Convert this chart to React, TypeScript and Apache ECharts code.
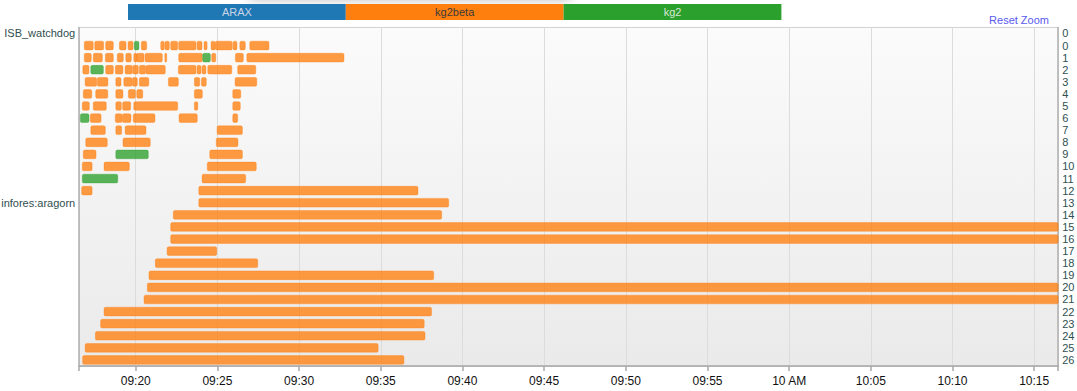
import React, { useEffect, useRef } from "react";
import * as echarts from "echarts";

// Time values are minutes after 09:00
const xMin = 16.54;
const xMax = 76.47;
const xTickValues = [20, 25, 30, 35, 40, 45, 50, 55, 60, 65, 70, 75];

const sources = ["ARAX", "kg2beta", "kg2"];
const sourceColors = ["#1f77b4", "#ff7f0e", "#2ca02c"];
const sourceTextColors = ["#c9d6e6", "#3a3a3a", "#d6e6d6"];

const groupNames = ["ISB_watchdog", "infores:aragorn"];
const groupLabelRows = [0, 14];

const rowLabels = [
  "0",
  "0", "1", "2", "3", "4", "5", "6", "7", "8", "9", "10", "11", "12", "13",
  "14", "15", "16", "17", "18", "19", "20", "21", "22", "23", "24", "25", "26",
];

// [aragorn row, start (min after 09:00), end, source]
const aragornBars: [number, number, number, string][] = [
  [0, 16.85, 17.4, "kg2beta"], [0, 17.49, 18.04, "kg2beta"], [0, 18.16, 18.63, "kg2beta"],
  [0, 19.0, 19.41, "kg2beta"], [0, 19.53, 19.84, "kg2beta"], [0, 19.91, 20.2, "kg2"],
  [0, 20.34, 20.67, "kg2beta"], [0, 21.53, 21.75, "kg2beta"], [0, 21.79, 22.06, "kg2beta"],
  [0, 22.14, 22.57, "kg2beta"], [0, 22.63, 23.69, "kg2beta"], [0, 23.75, 24.06, "kg2beta"],
  [0, 24.18, 24.37, "kg2beta"], [0, 24.61, 24.86, "kg2beta"], [0, 24.87, 25.91, "kg2beta"],
  [0, 25.96, 26.2, "kg2beta"], [0, 26.37, 26.71, "kg2beta"], [0, 26.98, 28.16, "kg2beta"],

  [1, 16.85, 17.28, "kg2beta"], [1, 17.4, 17.96, "kg2beta"], [1, 18.14, 18.63, "kg2beta"],
  [1, 18.87, 19.24, "kg2beta"], [1, 19.39, 19.73, "kg2beta"], [1, 19.88, 20.08, "kg2beta"],
  [1, 20.06, 20.51, "kg2beta"], [1, 20.57, 21.63, "kg2beta"], [1, 21.78, 21.9, "kg2beta"],
  [1, 22.63, 24.08, "kg2beta"], [1, 24.1, 24.57, "kg2"], [1, 24.65, 24.9, "kg2beta"],
  [1, 26.1, 26.59, "kg2beta"], [1, 26.8, 32.75, "kg2beta"],

  [2, 16.76, 17.14, "kg2beta"], [2, 17.25, 18.02, "kg2"], [2, 18.16, 18.63, "kg2beta"],
  [2, 18.75, 19.22, "kg2beta"], [2, 19.35, 19.79, "kg2beta"], [2, 19.82, 20.16, "kg2beta"],
  [2, 20.22, 20.61, "kg2beta"], [2, 20.63, 21.81, "kg2beta"], [2, 22.61, 23.69, "kg2beta"],
  [2, 23.75, 24.0, "kg2beta"], [2, 24.06, 24.3, "kg2beta"], [2, 24.41, 25.88, "kg2beta"],
  [2, 26.24, 27.35, "kg2beta"],

  [3, 16.9, 17.61, "kg2beta"], [3, 17.65, 18.3, "kg2beta"], [3, 18.78, 19.1, "kg2beta"],
  [3, 19.27, 19.77, "kg2beta"], [3, 19.79, 20.1, "kg2beta"], [3, 20.22, 20.8, "kg2beta"],
  [3, 22.0, 22.61, "kg2beta"], [3, 23.59, 23.92, "kg2beta"], [3, 24.02, 24.32, "kg2beta"],
  [3, 26.08, 27.41, "kg2beta"],

  [4, 16.79, 17.31, "kg2beta"], [4, 17.55, 18.29, "kg2beta"], [4, 18.78, 19.22, "kg2beta"],
  [4, 19.55, 19.98, "kg2beta"], [4, 20.06, 20.43, "kg2beta"], [4, 23.59, 24.08, "kg2beta"],
  [4, 25.94, 26.43, "kg2beta"],

  [5, 16.73, 17.16, "kg2beta"], [5, 17.4, 18.2, "kg2beta"], [5, 18.78, 19.12, "kg2beta"],
  [5, 19.2, 19.69, "kg2beta"], [5, 19.88, 22.57, "kg2beta"], [5, 23.59, 23.8, "kg2beta"],
  [5, 25.94, 26.4, "kg2beta"],

  [6, 16.61, 17.14, "kg2"], [6, 17.22, 17.88, "kg2beta"], [6, 18.75, 19.16, "kg2beta"],
  [6, 19.18, 19.71, "kg2beta"], [6, 19.85, 21.18, "kg2beta"], [6, 22.65, 23.77, "kg2beta"],
  [6, 25.94, 26.24, "kg2beta"],

  [7, 17.25, 18.14, "kg2beta"], [7, 18.78, 19.14, "kg2beta"], [7, 19.35, 20.63, "kg2beta"],
  [7, 24.98, 26.53, "kg2beta"],

  [8, 16.94, 18.26, "kg2beta"], [8, 19.22, 20.89, "kg2beta"], [8, 24.93, 26.26, "kg2beta"],

  [9, 16.79, 17.57, "kg2beta"], [9, 18.78, 20.77, "kg2"], [9, 24.53, 26.53, "kg2beta"],

  [10, 16.73, 17.33, "kg2beta"], [10, 18.06, 19.61, "kg2beta"], [10, 24.38, 27.38, "kg2beta"],

  [11, 16.73, 18.9, "kg2"], [11, 24.06, 26.73, "kg2beta"],

  [12, 16.69, 17.33, "kg2beta"], [12, 23.86, 37.28, "kg2beta"],
  [13, 23.86, 39.16, "kg2beta"],
  [14, 22.3, 38.73, "kg2beta"],
  [15, 22.14, 78.0, "kg2beta"],
  [16, 22.14, 78.0, "kg2beta"],
  [17, 21.92, 24.96, "kg2beta"],
  [18, 21.2, 27.47, "kg2beta"],
  [19, 20.81, 38.24, "kg2beta"],
  [20, 20.71, 78.0, "kg2beta"],
  [21, 20.51, 78.0, "kg2beta"],
  [22, 18.06, 38.11, "kg2beta"],
  [23, 17.85, 37.66, "kg2beta"],
  [24, 17.53, 37.71, "kg2beta"],
  [25, 16.9, 34.84, "kg2beta"],
  [26, 16.75, 36.42, "kg2beta"],
];

const FONT = "'Liberation Sans', Arial, sans-serif";

function fmtTime(v: number): string {
  const h = 9 + Math.floor(v / 60);
  const m = Math.round(v % 60);
  if (m === 0) return `${h} AM`;
  return `${String(h).padStart(2, "0")}:${String(m).padStart(2, "0")}`;
}

function hexToRgba(hex: string, a: number): string {
  const n = parseInt(hex.slice(1), 16);
  return `rgba(${(n >> 16) & 255},${(n >> 8) & 255},${n & 255},${a})`;
}

export default function App() {
  const ref = useRef<HTMLDivElement>(null);
  useEffect(() => {
    if (!ref.current) return;
    const chart = echarts.init(ref.current, null, { renderer: "svg" });

    const data = aragornBars.map((b) => [b[0] + 1, b[1], b[2], sources.indexOf(b[3])]);

    const legendX0 = 128;
    const legendW = 217.8;
    const legendGraphics: any[] = [
      {
        type: "rect",
        shape: { x: 250, y: -16, width: 320, height: 14 },
        style: { fill: "#fff", shadowBlur: 12, shadowColor: "rgba(0,0,0,0.35)" },
        silent: true,
      },
    ];
    sources.forEach((s, i) => {
      legendGraphics.push({
        type: "rect",
        shape: { x: legendX0 + i * legendW, y: 4, width: legendW, height: 16 },
        style: { fill: sourceColors[i] },
        silent: true,
      });
      legendGraphics.push({
        type: "text",
        x: legendX0 + i * legendW + legendW / 2,
        y: 12,
        style: {
          text: s,
          fill: sourceTextColors[i],
          font: `11px ${FONT}`,
          textAlign: "center",
          textVerticalAlign: "middle",
        },
        silent: true,
      });
    });
    legendGraphics.push({
      type: "text",
      x: 1049,
      y: 20,
      style: {
        text: "Reset Zoom",
        fill: "#5a5aef",
        font: `11px ${FONT}`,
        textAlign: "right",
        textVerticalAlign: "middle",
      },
    });

    const option: any = {
      animation: false,
      backgroundColor: "#ffffff",
      textStyle: { fontFamily: FONT },
      grid: {
        left: 79.2,
        right: 18.8,
        top: 27.4,
        bottom: 25,
        show: true,
        borderColor: "#dddddd",
        borderWidth: 1,
        backgroundColor: {
          type: "linear",
          x: 0,
          y: 0,
          x2: 0,
          y2: 1,
          colorStops: [
            { offset: 0, color: "#fbfbfb" },
            { offset: 1, color: "#eaeaea" },
          ],
        },
        outerBoundsMode: "none",
      },
      graphic: legendGraphics,
      xAxis: {
        type: "value",
        min: xMin,
        max: xMax,
        axisLine: { show: true, lineStyle: { color: "#a8a8a8", width: 1.5 } },
        axisTick: {
          show: true,
          length: 5,
          lineStyle: { color: "#a8a8a8", width: 1.5 },
          customValues: [xMin, ...xTickValues, xMax],
        },
        axisLabel: {
          customValues: xTickValues,
          formatter: (v: number) => fmtTime(v),
          color: "#111",
          fontSize: 12,
          fontFamily: FONT,
          margin: 9,
        },
        splitLine: { show: true, lineStyle: { color: "#dcdcdc", width: 1 } },
      },
      yAxis: [
        {
          type: "category",
          data: rowLabels.map((_, i) => i),
          inverse: true,
          position: "left",
          axisLine: { show: true, lineStyle: { color: "#b0b0b0", width: 1.5 } },
          axisTick: { show: false },
          axisLabel: {
            interval: 0,
            margin: 4,
            color: "#2f4f4f",
            fontSize: 11,
            fontFamily: FONT,
            formatter: (_v: any, idx: number) => {
              const g = groupLabelRows.indexOf(idx);
              return g >= 0 ? groupNames[g] : "";
            },
          },
          splitLine: {
            show: true,
            interval: (i: number) => i === 1,
            lineStyle: { color: "#d4d4d4", width: 1 },
          },
        },
        {
          type: "category",
          data: rowLabels.map((_, i) => i),
          inverse: true,
          position: "right",
          axisLine: { show: true, lineStyle: { color: "#b0b0b0", width: 1.5 } },
          axisTick: { show: false },
          axisLabel: {
            interval: 0,
            margin: 4,
            color: "#2f4f4f",
            fontSize: 11,
            fontFamily: FONT,
            formatter: (_v: any, idx: number) => rowLabels[idx],
          },
          splitLine: { show: false },
        },
      ],
      series: [
        {
          type: "custom",
          xAxisIndex: 0,
          yAxisIndex: 0,
          encode: { x: [1, 2], y: 0 },
          clip: true,
          data,
          renderItem: (params: any, api: any) => {
            const row = api.value(0);
            const s = api.value(1);
            const e = api.value(2);
            const src = api.value(3);
            const p0 = api.coord([s, row]);
            const p1 = api.coord([e, row]);
            const h = api.size([0, 1])[1] * 0.72;
            const cs = params.coordSys;
            const rect = echarts.graphic.clipRectByRect(
              { x: p0[0], y: p0[1] - h / 2, width: p1[0] - p0[0], height: h },
              { x: cs.x, y: cs.y, width: cs.width, height: cs.height }
            );
            if (!rect) return null;
            const c = sourceColors[src];
            return {
              type: "rect",
              shape: { x: rect.x, y: rect.y, width: rect.width, height: rect.height, r: 1.5 },
              style: {
                fill: hexToRgba(c, 0.78),
                stroke: hexToRgba(c, 0.35),
                lineWidth: 1,
              },
            };
          },
        },
      ],
    };

    chart.setOption(option);
    return () => chart.dispose();
  }, []);

  return (
    <div
      ref={ref}
      style={{ position: "fixed", left: 0, top: 0, width: 1077, height: 391 }}
    />
  );
}
